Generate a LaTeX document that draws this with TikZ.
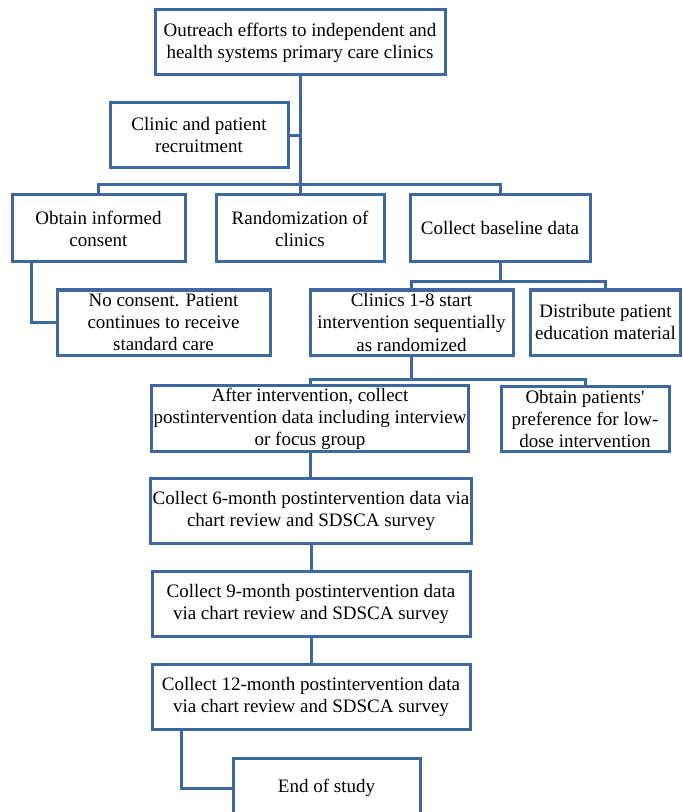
\documentclass[tikz,border=0pt]{standalone}
\usepackage{fontspec}
\setmainfont{Liberation Serif}
\definecolor{flowblue}{RGB}{62,104,164}
\begin{document}
\begin{tikzpicture}[x=0.5pt,y=-0.5pt,
        box/.style={draw=flowblue,line width=1.5pt,fill=white,align=center,
            inner sep=1pt,minimum height=32.5pt,
            font=\fontsize{9.5}{11}\selectfont},
        link/.style={draw=flowblue,line width=1.5pt}]
        \clip (0,0) rectangle (683,812);
        % Top part
        \node[box,minimum width=145pt] (out) at (300,42.5) {Outreach efforts to independent and\\health systems primary care clinics};
        \node[box,minimum width=89pt] (recruit) at (199,135.5) {Clinic and patient\\recruitment};
        \node[box,minimum width=86.5pt,minimum height=33.5pt] (consent) at (98.5,228.5) {Obtain informed\\consent};
        \node[box,minimum width=84pt,minimum height=33.5pt] (random) at (300,228.5) {Randomization of\\clinics};
        \node[box,minimum width=90pt,minimum height=33.5pt] (baseline) at (500,228.5) {Collect baseline data};
        % Middle part
        \node[box,minimum width=106.5pt] (nocons) at (163.5,322.5) {No consent. Patient\\continues to receive\\standard care};
        \node[box,minimum width=101.5pt] (clinics) at (411.5,322.5) {Clinics 1-8 start\\intervention sequentially\\as randomized};
        \node[box,minimum width=75pt] (distrib) at (605.5,322.5) {Distribute patient\\education material};
        \node[box,minimum width=157pt] (after) at (310,418.5) {After intervention, collect\\postintervention data including interview\\or focus group};
        \node[box,minimum width=84pt] (prefer) at (585,418.5) {Obtain patients\textquotesingle\\preference for low-\\dose intervention};
        % Follow-up part
        \node[box,minimum width=160pt] (m6) at (311,510.5) {Collect 6-month postintervention data via\\chart review and SDSCA survey};
        \node[box,minimum width=159pt] (m9) at (311,603.5) {Collect 9-month postintervention data\\via chart review and SDSCA survey};
        \node[box,minimum width=159pt] (m12) at (311,697) {Collect 12-month postintervention data\\via chart review and SDSCA survey};
        \node[box,minimum width=93.5pt,minimum height=30pt] (end) at (326.5,788) {End of study};
        % Connectors
        \draw[link] (out.south) -- ++(0,108) coordinate (bus1);
        \draw[link] (recruit.east) -- (recruit.east -| out.south);
        \draw[link] (bus1) -| (consent.north);
        \draw[link] (bus1) -| (baseline.north);
        \draw[link] (bus1) -- (random.north);
        \draw[link] ([xshift=10.5pt]consent.south west) |- (nocons.west);
        \draw[link] (baseline.south) -- ++(0,18) coordinate (bus2) -| (clinics.north);
        \draw[link] (bus2) -| (distrib.north);
        \draw[link] (clinics.south) -- ++(0,23) coordinate (bus3) -| (after.north);
        \draw[link] (bus3) -| (prefer.north);
        \draw[link] (after.south) -- (after.south |- m6.north);
        \draw[link] (m6.south) -- (m9.north);
        \draw[link] (m9.south) -- (m12.north);
        \draw[link] ([xshift=15.5pt]m12.south west) |- (end.west);
    \end{tikzpicture}
\end{document}
